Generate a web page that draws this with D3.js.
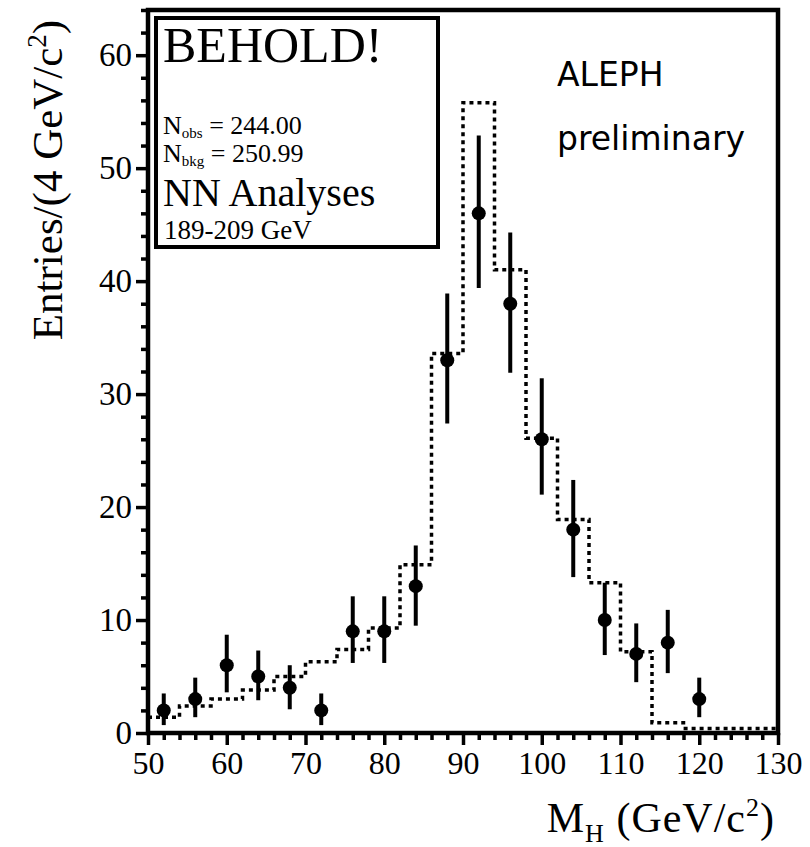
<!DOCTYPE html>
<html>
<head>
<meta charset="utf-8">
<script src="https://cdn.jsdelivr.net/npm/d3@7"></script>
<style>
html,body{margin:0;padding:0;background:#fff;}
svg{display:block;}
</style>
</head>
<body>
<script>
// ---- data ----
const massBins = [52,56,60,64,68,72,76,80,84,88,92,96,100,104,108,112,116,120];
const observed = [2,3,6,5,4,2,9,9,13,33,46,38,26,18,10,7,8,3];
const errLow   = [0.7,1.4,3.6,2.9,2.1,0.7,6.2,6.2,9.5,27.4,39.4,31.9,21.1,13.8,6.9,4.5,5.3,1.4];
const errHigh  = [3.5,4.9,8.7,7.3,6.0,3.5,12.1,12.1,16.6,38.9,52.9,44.3,31.4,22.4,13.3,9.7,10.9,4.9];
const bgEdges  = [50,54,58,62,66,70,74,78,82,86,90,94,98,102,106,110,114,118,122,126,130];
const bgValues = [1.4,2.4,3.0,3.8,5.0,6.3,7.4,9.3,14.9,33.6,55.8,41.0,26.1,18.9,13.3,7.2,0.9,0.4,0.4,0.4];
const xMajor = [50,60,70,80,90,100,110,120,130];
const yMajor = [0,10,20,30,40,50,60];

const W = 810, H = 847;
const svg = d3.select("body").append("svg").attr("width", W).attr("height", H);

const x = d3.scaleLinear().domain([50,130]).range([148,778]);
const y = d3.scaleLinear().domain([0,64]).range([733,10]);

const serif = "'Liberation Serif','Times New Roman',serif";

// background histogram (dotted)
const pts = [];
bgValues.forEach((v,i)=>{ pts.push([bgEdges[i], v]); pts.push([bgEdges[i+1], v]); });
svg.append("path")
  .attr("d", d3.line().x(d=>x(d[0])).y(d=>y(d[1]))(pts))
  .attr("fill","none").attr("stroke","#000").attr("stroke-width",3.5)
  .attr("stroke-dasharray","4,4");

// error bars
svg.selectAll("line.err").data(massBins).enter().append("line")
  .attr("x1", d=>x(d)).attr("x2", d=>x(d))
  .attr("y1", (d,i)=>y(errLow[i])).attr("y2", (d,i)=>y(errHigh[i]))
  .attr("stroke","#000").attr("stroke-width",4);
svg.selectAll("circle.pt").data(massBins).enter().append("circle")
  .attr("cx", d=>x(d)).attr("cy", (d,i)=>y(observed[i])).attr("r",7).attr("fill","#000");

// axes
const xMinor = d3.range(50,131,2).filter(v=>v%10!==0);
const yMinor = d3.range(0,65,2).filter(v=>v%10!==0);

const gx = svg.append("g").attr("transform","translate(0,733)")
  .call(d3.axisBottom(x).tickValues(xMajor).tickSize(12).tickPadding(6).tickFormat(d3.format("d")));
gx.select(".domain").remove();
gx.selectAll("line").attr("stroke-width",3.5);
gx.selectAll("text").attr("font-family",serif).attr("font-size",32).attr("fill","#000");
const gxm = svg.append("g").attr("transform","translate(0,733)")
  .call(d3.axisBottom(x).tickValues(xMinor).tickSize(7).tickFormat(""));
gxm.select(".domain").remove();
gxm.selectAll("line").attr("stroke-width",3.5);

const gy = svg.append("g").attr("transform","translate(148,0)")
  .call(d3.axisLeft(y).tickValues(yMajor).tickSize(12).tickPadding(4).tickFormat(d3.format("d")));
gy.select(".domain").remove();
gy.selectAll("line").attr("stroke-width",3.5);
gy.selectAll("text").attr("font-family",serif).attr("font-size",33).attr("fill","#000");
const gym = svg.append("g").attr("transform","translate(148,0)")
  .call(d3.axisLeft(y).tickValues(yMinor).tickSize(7).tickFormat(""));
gym.select(".domain").remove();
gym.selectAll("line").attr("stroke-width",3.5);

// frame
svg.append("rect").attr("x",x(50)).attr("y",y(64)).attr("width",x(130)-x(50)).attr("height",y(0)-y(64))
  .attr("fill","none").attr("stroke","#000").attr("stroke-width",4.5);

// legend box
svg.append("rect").attr("x",156).attr("y",18).attr("width",282).attr("height",229)
  .attr("fill","#fff").attr("stroke","#000").attr("stroke-width",4);
svg.append("text").attr("x",163).attr("y",62).attr("font-family",serif).attr("font-size",50).text("BEHOLD!");
const t1 = svg.append("text").attr("x",163).attr("y",134).attr("font-family",serif).attr("font-size",26);
t1.append("tspan").text("N");
t1.append("tspan").attr("font-size",15).attr("dy",4).text("obs");
t1.append("tspan").attr("dy",-4).text(" = 244.00");
const t2 = svg.append("text").attr("x",163).attr("y",162).attr("font-family",serif).attr("font-size",26);
t2.append("tspan").text("N");
t2.append("tspan").attr("font-size",15).attr("dy",4).text("bkg");
t2.append("tspan").attr("dy",-4).text(" = 250.99");
svg.append("text").attr("x",163).attr("y",206).attr("font-family",serif).attr("font-size",40).text("NN Analyses");
svg.append("text").attr("x",164).attr("y",239).attr("font-family",serif).attr("font-size",27).text("189-209 GeV");

// ALEPH preliminary
const casual = "'DejaVu Sans','Open Sans',sans-serif";
svg.append("text").attr("x",557).attr("y",86).attr("font-family",casual).attr("font-size",33).text("ALEPH");
svg.append("text").attr("x",557).attr("y",150).attr("font-family",casual).attr("font-size",33).text("preliminary");

// axis titles
const yl = svg.append("text").attr("transform","translate(62,180) rotate(-90)")
  .attr("text-anchor","middle").attr("font-family",serif).attr("font-size",43);
yl.append("tspan").text("Entries/(4 GeV/c");
yl.append("tspan").attr("font-size",27).attr("dy",-16).text("2");
yl.append("tspan").attr("dy",16).text(")");

const xl = svg.append("text").attr("x",775).attr("y",832).attr("text-anchor","end")
  .attr("font-family",serif).attr("font-size",42).attr("letter-spacing",1);
xl.append("tspan").text("M");
xl.append("tspan").attr("font-size",26).attr("dy",10).text("H");
xl.append("tspan").attr("dy",-10).text(" (GeV/c");
xl.append("tspan").attr("font-size",26).attr("dy",-16).text("2");
xl.append("tspan").attr("dy",16).text(")");
</script>
</body>
</html>
